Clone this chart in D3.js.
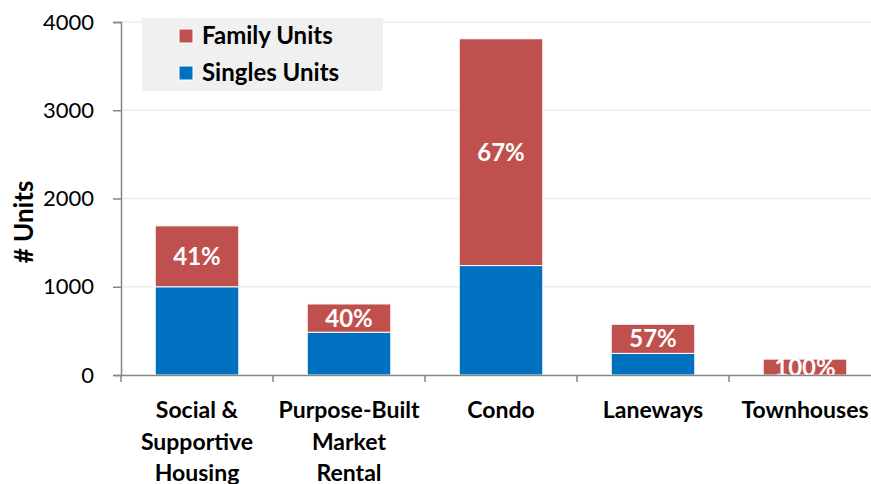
<!DOCTYPE html>
<html>
<head>
<meta charset="utf-8">
<script src="https://cdn.jsdelivr.net/npm/d3@7"></script>
<style>
  body { margin: 0; background: #fff; }
  svg { display: block; font-family: Lato, "Open Sans", sans-serif; }
</style>
</head>
<body>
<div id="chart"></div>
<script>
// data
var categories = ["Social & Supportive Housing", "Purpose-Built Market Rental", "Condo", "Laneways", "Townhouses"];
var categoryLines = [["Social &", "Supportive", "Housing"], ["Purpose-Built", "Market", "Rental"], ["Condo"], ["Laneways"], ["Townhouses"]];
var singlesUnits = [1000, 485, 1240, 245, 0];
var familyUnits = [690, 320, 2570, 330, 180];
var familyPct = ["41%", "40%", "67%", "57%", "100%"];
var yTicks = [0, 1000, 2000, 3000, 4000];

var W = 871, H = 484;
var margin = {top: 22, right: -10, bottom: 109, left: 121},
    width = W - margin.left - margin.right,
    height = H - margin.top - margin.bottom;

var red = "#c0504d", blue = "#0070c0";

var svg = d3.select("#chart").append("svg")
    .attr("width", W)
    .attr("height", H);

var g = svg.append("g")
    .attr("transform", "translate(" + margin.left + "," + margin.top + ")");

var x = d3.scaleBand().domain(categories).range([0, width]).paddingInner(0.45).paddingOuter(0.225);
var y = d3.scaleLinear().domain([0, 4000]).range([height, 0]);

// gridlines
g.append("g").selectAll("line")
    .data(yTicks.slice(1))
    .enter().append("line")
    .attr("x1", 0).attr("x2", width)
    .attr("y1", d => y(d)).attr("y2", d => y(d))
    .attr("stroke", "#ececec").attr("stroke-width", 1.3);

g.append("clipPath").attr("id", "plot")
  .append("rect").attr("x", 0).attr("y", -5).attr("width", width).attr("height", height + 5);

var stacked = categories.map((c, i) => ({cat: c, s: singlesUnits[i], f: familyUnits[i], pct: familyPct[i]}));

var bars = g.append("g").attr("clip-path", "url(#plot)");

bars.selectAll(".single")
    .data(stacked.filter(d => d.s > 0))
    .enter().append("rect")
    .attr("class", "single")
    .attr("x", d => x(d.cat))
    .attr("width", x.bandwidth())
    .attr("y", d => y(d.s))
    .attr("height", d => y(0) - y(d.s))
    .attr("fill", blue)
    .attr("stroke", "#fff").attr("stroke-width", 1);

bars.selectAll(".family")
    .data(stacked)
    .enter().append("rect")
    .attr("class", "family")
    .attr("x", d => x(d.cat))
    .attr("width", x.bandwidth())
    .attr("y", d => y(d.s + d.f))
    .attr("height", d => y(d.s) - y(d.s + d.f))
    .attr("fill", red)
    .attr("stroke", "#fff").attr("stroke-width", 1);

bars.selectAll(".pct")
    .data(stacked)
    .enter().append("text")
    .attr("x", d => x(d.cat) + x.bandwidth() / 2)
    .attr("y", d => (y(d.s) + y(d.s + d.f)) / 2)
    .attr("dy", "0.36em")
    .attr("text-anchor", "middle")
    .attr("fill", "#fff")
    .attr("font-weight", "bold")
    .attr("font-size", 24)
    .text(d => d.pct);

// y axis
var yAxis = g.append("g")
    .call(d3.axisLeft(y).tickValues(yTicks).tickFormat(d3.format("d")).tickSize(8).tickPadding(19));
yAxis.select(".domain").attr("stroke", "#868686").attr("stroke-width", 1.5);
yAxis.selectAll(".tick line").attr("stroke", "#868686").attr("stroke-width", 1.5);
yAxis.selectAll(".tick text").attr("font-size", 22).attr("fill", "#000")
    .attr("font-family", "Lato, sans-serif");

// x axis
var xAxis = g.append("g")
    .attr("transform", "translate(0," + height + ")")
    .call(d3.axisBottom(x).tickSize(0).tickFormat(""));
xAxis.select(".domain").attr("stroke", "#868686").attr("stroke-width", 1.5);
xAxis.selectAll(".tick").remove();

xAxis.selectAll(".sep")
    .data(categories.map(c => x(c) - x.step() * 0.225))
    .enter().append("line")
    .attr("x1", d => d).attr("x2", d => d)
    .attr("y1", 0).attr("y2", 7)
    .attr("stroke", "#868686").attr("stroke-width", 1.5);

var labels = g.append("g")
    .attr("transform", "translate(0," + height + ")")
    .selectAll("text")
    .data(categories)
    .enter().append("text")
    .attr("x", d => x(d) + x.bandwidth() / 2)
    .attr("y", 43)
    .attr("text-anchor", "middle")
    .attr("font-weight", "bold")
    .attr("font-size", 23)
    .attr("fill", "#000");
labels.each(function(d, i) {
    d3.select(this).selectAll("tspan")
        .data(categoryLines[i])
        .enter().append("tspan")
        .attr("x", x(d) + x.bandwidth() / 2)
        .attr("dy", (t, j) => j === 0 ? 0 : 31.5)
        .text(t => t);
});

// y title
svg.append("text")
    .attr("transform", "translate(33,222) rotate(-90)")
    .attr("text-anchor", "middle")
    .attr("font-weight", "bold")
    .attr("font-size", 26)
    .text("# Units");

// legend
var legend = svg.append("g").attr("transform", "translate(142,18)");
legend.append("rect").attr("width", 241).attr("height", 73).attr("fill", "#f0f0f0");
var legendItems = [{name: "Family Units", color: red}, {name: "Singles Units", color: blue}];
var li = legend.selectAll(".item")
    .data(legendItems)
    .enter().append("g")
    .attr("transform", (d, i) => "translate(37," + (18 + i * 37) + ")");
li.append("rect").attr("x", 0).attr("y", -7).attr("width", 14).attr("height", 14)
    .attr("fill", d => d.color).attr("stroke", "#fff").attr("stroke-width", 1);
li.append("text").attr("x", 23).attr("dy", "0.35em")
    .attr("font-weight", "bold").attr("font-size", 24)
    .text(d => d.name);
</script>
</body>
</html>
